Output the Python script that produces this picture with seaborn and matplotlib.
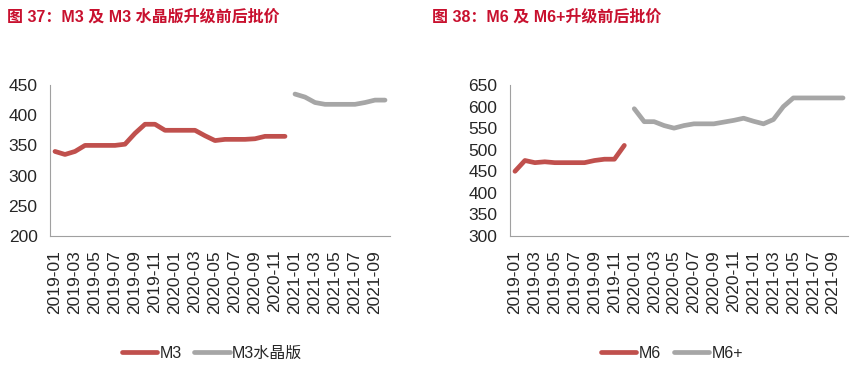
import pandas as pd
import numpy as np
import seaborn as sns
import matplotlib.pyplot as plt

# Month categories shared by both panels (2019-01 .. 2021-10).
months = ['2019-01', '2019-02', '2019-03', '2019-04', '2019-05', '2019-06',
          '2019-07', '2019-08', '2019-09', '2019-10', '2019-11', '2019-12',
          '2020-01', '2020-02', '2020-03', '2020-04', '2020-05', '2020-06',
          '2020-07', '2020-08', '2020-09', '2020-10', '2020-11', '2020-12',
          '2021-01', '2021-02', '2021-03', '2021-04', '2021-05', '2021-06',
          '2021-07', '2021-08', '2021-09', '2021-10']

# Figure 37: M3 (2019-01 .. 2020-12) and M3 crystal (2021-01 .. 2021-10).
m3 = [340, 335, 340, 350, 350, 350, 350, 352, 370, 385, 385, 375,
      375, 375, 375, 366, 358, 360, 360, 360, 361, 365, 365, 365]
m3_crystal = [435, 430, 421, 418, 418, 418, 418, 421, 425, 425]

# Figure 38: M6 (2019-01 .. 2019-12) and M6+ (2020-01 .. 2021-10).
m6 = [450, 475, 470, 472, 470, 470, 470, 470, 475, 478, 478, 510]
m6_plus = [595, 565, 565, 556, 550, 556, 560, 560, 560, 564, 568, 573,
           566, 560, 570, 600, 620, 620, 620, 620, 620, 620]

titles = ['图 37：M3 及 M3 水晶版升级前后批价', '图 38：M6 及 M6+升级前后批价']
names = [('M3', 'M3水晶版'), ('M6', 'M6+')]
y_ranges = [(200, 450), (300, 650)]

RED = '#C0504D'
GRAY = '#A6A6A6'
AXIS = '#A0A0A0'
FONTS = ['Liberation Sans', 'Noto Sans CJK SC']


def long_frame(first, second, name_a, name_b):
    # First series starts at 2019-01, second continues right after it.
    n = len(first)
    df_a = pd.DataFrame({'month': months[:n], 'price': first, 'series': name_a})
    df_b = pd.DataFrame({'month': months[n:n + len(second)], 'price': second, 'series': name_b})
    return pd.concat([df_a, df_b], ignore_index=True)


def draw_panel(ax, df, name_a, name_b, ylim):
    sns.lineplot(data=df, x='month', y='price', hue='series', sort=False,
                 palette={name_a: RED, name_b: GRAY}, linewidth=3.4,
                 solid_capstyle='round', ax=ax)

    ax.set_xlim(-0.5, len(months) - 0.5)
    ax.set_ylim(*ylim)
    ax.set_yticks(np.arange(ylim[0], ylim[1] + 1, 50))
    ax.set_xlabel('')
    ax.set_ylabel('')

    # Labels every other month, tick marks at category boundaries.
    ax.set_xticks(range(0, len(months), 2))
    ax.set_xticklabels(months[::2], rotation=90, fontsize=12.5)
    ax.set_xticks(np.arange(-0.5, len(months), 1), minor=True)
    ax.tick_params(axis='x', which='major', length=0, pad=10)
    ax.tick_params(axis='x', which='minor', length=4, color=AXIS, width=0.8)
    ax.tick_params(axis='y', length=4, color=AXIS, width=0.8, pad=5, labelsize=12.5)

    for side in ['top', 'right']:
        ax.spines[side].set_visible(False)
    for side in ['left', 'bottom']:
        ax.spines[side].set_color(AXIS)
        ax.spines[side].set_linewidth(0.8)
    ax.grid(False)


sns.set_theme(style='white')
plt.rcParams['font.family'] = FONTS

fig = plt.figure(figsize=(8.51, 3.66), dpi=100)
ax_left = fig.add_axes([50 / 851, 130 / 366, 340 / 851, 151 / 366])
ax_right = fig.add_axes([510 / 851, 130 / 366, 338 / 851, 151 / 366])

panels = [(ax_left, m3, m3_crystal), (ax_right, m6, m6_plus)]
legend_x = [212 / 851, 672 / 851]
title_x = [7 / 851, 432 / 851]

for i, (ax, first, second) in enumerate(panels):
    name_a, name_b = names[i]
    df = long_frame(first, second, name_a, name_b)
    draw_panel(ax, df, name_a, name_b, y_ranges[i])

    handles, labels = ax.get_legend_handles_labels()
    ax.get_legend().remove()
    fig.legend(handles, labels, loc='center', bbox_to_anchor=(legend_x[i], 13 / 366),
               ncol=2, frameon=False, fontsize=11.5, handlelength=2.2,
               handletextpad=0.15, columnspacing=0.8)

    fig.text(title_x[i], 1 - 17 / 366, titles[i], color='#C8102E', fontsize=11.5,
             fontweight='bold', va='center', ha='left')

fig.savefig('out.png', dpi=100)
